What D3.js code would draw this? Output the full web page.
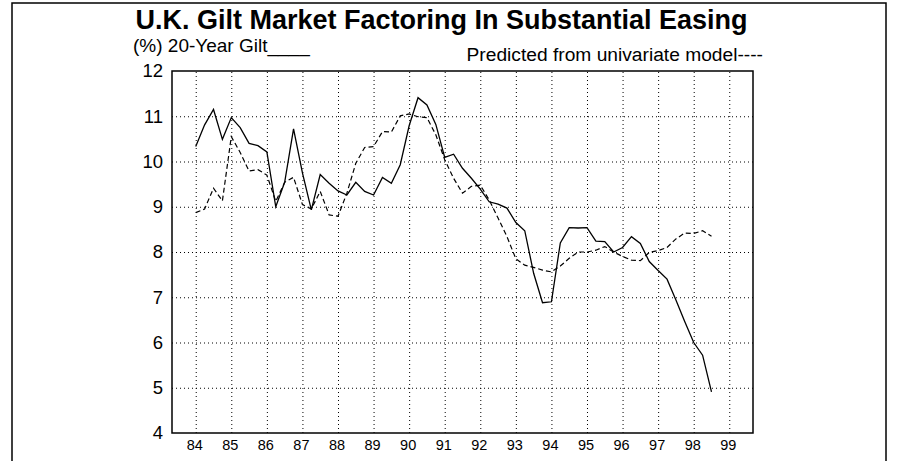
<!DOCTYPE html>
<html>
<head>
<meta charset="utf-8">
<script src="https://cdn.jsdelivr.net/npm/d3@7"></script>
<style>
  body { margin: 0; background: #fff; }
  svg { display: block; font-family: "Liberation Sans", Arial, sans-serif; }
  .grid line { stroke: #000; stroke-dasharray: 1,3; stroke-width: 1; }
  .grid path { display: none; }
  .axis path { display: none; }
  .axis line { display: none; }
</style>
</head>
<body>
<svg id="chart"></svg>
<script>
const width = 898;
const height = 461;
const margin = { top: 71, right: 145, bottom: 28, left: 172 };

// quarterly observations, 1984Q1 .. 1998Q3
const quarters = d3.range(0, 59).map(i => 84 + i * 0.25);

const gilt20 = [
  10.33, 10.81, 11.15, 10.49, 10.97, 10.75, 10.40, 10.35,
  10.21, 9.00, 9.54, 10.72, 9.75, 8.93, 9.71, 9.52,
  9.35, 9.26, 9.54, 9.34, 9.26, 9.65, 9.52, 9.93,
  10.79, 11.41, 11.25, 10.82, 10.09, 10.16, 9.85, 9.63,
  9.39, 9.11, 9.06, 8.97, 8.65, 8.47, 7.53, 6.88,
  6.90, 8.20, 8.54, 8.53, 8.54, 8.24, 8.23, 8.00,
  8.10, 8.34, 8.19, 7.79, 7.59, 7.40, 6.94, 6.46,
  6.00, 5.72, 4.91
];

const predicted = [
  8.87, 8.95, 9.41, 9.13, 10.55, 10.20, 9.79, 9.82,
  9.70, 9.12, 9.54, 9.65, 9.05, 8.95, 9.34, 8.82,
  8.79, 9.30, 9.96, 10.31, 10.33, 10.66, 10.65, 11.01,
  11.05, 10.99, 10.97, 10.59, 10.04, 9.63, 9.30, 9.45,
  9.48, 9.15, 8.75, 8.34, 7.85, 7.71, 7.66, 7.60,
  7.56, 7.69, 7.86, 8.00, 8.00, 8.04, 8.12, 8.00,
  7.90, 7.82, 7.81, 7.99, 8.03, 8.10, 8.29, 8.42,
  8.41, 8.47, 8.35
];

const yearTicks = d3.range(84, 100);
const yTicks = d3.range(4, 13);

const svg = d3.select("#chart")
  .attr("width", width)
  .attr("height", height);

// page frame
svg.append("rect")
  .attr("x", 12).attr("y", 3)
  .attr("width", 874).attr("height", 480)
  .attr("fill", "none")
  .attr("stroke", "#000")
  .attr("stroke-width", 1.5);

const x = d3.scaleLinear()
  .domain([83.333, 99.667])
  .range([margin.left, width - margin.right]);

const y = d3.scaleLinear()
  .domain([4, 12])
  .range([height - margin.bottom, margin.top]);

// grid
svg.append("g")
  .attr("class", "grid")
  .attr("transform", `translate(0,${height - margin.bottom})`)
  .call(d3.axisBottom(x).tickValues(yearTicks)
    .tickSize(-(height - margin.bottom - margin.top)).tickFormat(""));

svg.append("g")
  .attr("class", "grid")
  .attr("transform", `translate(${margin.left},0)`)
  .call(d3.axisLeft(y).tickValues(d3.range(5, 12))
    .tickSize(-(width - margin.right - margin.left)).tickFormat(""));

// axes labels
svg.append("g")
  .attr("class", "axis")
  .attr("transform", `translate(0,${height - margin.bottom})`)
  .call(d3.axisBottom(x).tickValues(yearTicks).tickSize(0).tickPadding(7))
  .call(g => g.selectAll("text")
    .attr("dx", -1.5)
    .style("font-size", "14.5px")
    .style("font-family", "Liberation Sans, Arial, sans-serif")
    .attr("fill", "#000"));

svg.append("g")
  .attr("class", "axis")
  .attr("transform", `translate(${margin.left},0)`)
  .call(d3.axisLeft(y).tickValues(yTicks).tickSize(0).tickPadding(9))
  .call(g => g.selectAll("text")
    .style("font-size", "18.5px")
    .style("font-family", "Liberation Sans, Arial, sans-serif")
    .attr("fill", "#000"));

// plot frame
svg.append("rect")
  .attr("x", margin.left)
  .attr("y", margin.top)
  .attr("width", width - margin.right - margin.left)
  .attr("height", height - margin.bottom - margin.top)
  .attr("fill", "none")
  .attr("stroke", "#000")
  .attr("stroke-width", 1.5);

// lines
const line = d3.line()
  .x((d, i) => x(quarters[i]))
  .y(d => y(d));

svg.append("path")
  .datum(gilt20)
  .attr("d", line)
  .attr("fill", "none")
  .attr("stroke", "#000")
  .attr("stroke-width", 1.3);

svg.append("path")
  .datum(predicted)
  .attr("d", line)
  .attr("fill", "none")
  .attr("stroke", "#000")
  .attr("stroke-width", 1.2)
  .attr("stroke-dasharray", "5,3");

// titles
svg.append("text")
  .attr("x", 441.5)
  .attr("y", 29)
  .attr("text-anchor", "middle")
  .style("font-weight", "bold")
  .style("font-size", "27px")
  .text("U.K. Gilt Market Factoring In Substantial Easing");

svg.append("text")
  .attr("x", 133)
  .attr("y", 51.5)
  .style("font-size", "19px")
  .text("(%) 20-Year Gilt____");

svg.append("text")
  .attr("x", 763)
  .attr("y", 61)
  .attr("text-anchor", "end")
  .style("font-size", "19.2px")
  .text("Predicted from univariate model----");
</script>
</body>
</html>
